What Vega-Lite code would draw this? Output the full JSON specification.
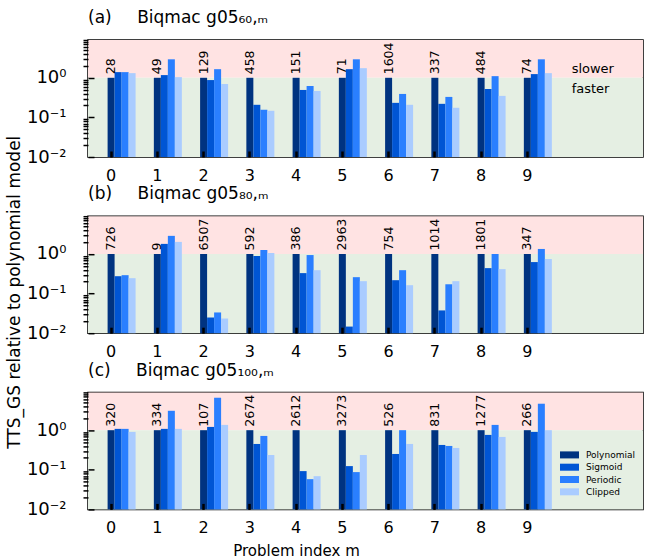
{
  "$schema": "https://vega.github.io/schema/vega-lite/v6.json",
  "padding": {"left": 4, "top": 8, "right": 0, "bottom": 0},
  "config": {
    "font": "DejaVu Sans",
    "view": {"stroke": "black", "strokeWidth": 1.5},
    "title": {"fontSize": 17, "fontWeight": "normal", "anchor": "start", "frame": "group", "offset": 12, "color": "black"},
    "axis": {"grid": false, "domain": false, "labelColor": "black", "tickColor": "black", "titleFontWeight": "normal", "titleColor": "black"}
  },
  "datasets": {
    "bars": [
      {"panel": "a", "m": 0, "model": "Polynomial", "value": 1}, {"panel": "a", "m": 0, "model": "Sigmoid", "value": 1.39}, {"panel": "a", "m": 0, "model": "Periodic", "value": 1.39}, {"panel": "a", "m": 0, "model": "Clipped", "value": 1.31},
      {"panel": "a", "m": 1, "model": "Polynomial", "value": 1}, {"panel": "a", "m": 1, "model": "Sigmoid", "value": 1.17}, {"panel": "a", "m": 1, "model": "Periodic", "value": 2.93}, {"panel": "a", "m": 1, "model": "Clipped", "value": 1.04},
      {"panel": "a", "m": 2, "model": "Polynomial", "value": 1}, {"panel": "a", "m": 2, "model": "Sigmoid", "value": 0.876}, {"panel": "a", "m": 2, "model": "Periodic", "value": 1.65}, {"panel": "a", "m": 2, "model": "Clipped", "value": 0.696},
      {"panel": "a", "m": 3, "model": "Polynomial", "value": 1}, {"panel": "a", "m": 3, "model": "Sigmoid", "value": 0.208}, {"panel": "a", "m": 3, "model": "Periodic", "value": 0.156}, {"panel": "a", "m": 3, "model": "Clipped", "value": 0.147},
      {"panel": "a", "m": 4, "model": "Polynomial", "value": 1}, {"panel": "a", "m": 4, "model": "Sigmoid", "value": 0.493}, {"panel": "a", "m": 4, "model": "Periodic", "value": 0.62}, {"panel": "a", "m": 4, "model": "Clipped", "value": 0.465},
      {"panel": "a", "m": 5, "model": "Polynomial", "value": 1}, {"panel": "a", "m": 5, "model": "Sigmoid", "value": 1.65}, {"panel": "a", "m": 5, "model": "Periodic", "value": 2.93}, {"panel": "a", "m": 5, "model": "Clipped", "value": 1.75},
      {"panel": "a", "m": 6, "model": "Polynomial", "value": 1}, {"panel": "a", "m": 6, "model": "Sigmoid", "value": 0.233}, {"panel": "a", "m": 6, "model": "Periodic", "value": 0.391}, {"panel": "a", "m": 6, "model": "Clipped", "value": 0.208},
      {"panel": "a", "m": 7, "model": "Polynomial", "value": 1}, {"panel": "a", "m": 7, "model": "Sigmoid", "value": 0.22}, {"panel": "a", "m": 7, "model": "Periodic", "value": 0.329}, {"panel": "a", "m": 7, "model": "Clipped", "value": 0.175},
      {"panel": "a", "m": 8, "model": "Polynomial", "value": 1}, {"panel": "a", "m": 8, "model": "Sigmoid", "value": 0.522}, {"panel": "a", "m": 8, "model": "Periodic", "value": 1.1}, {"panel": "a", "m": 8, "model": "Clipped", "value": 0.349},
      {"panel": "a", "m": 9, "model": "Polynomial", "value": 1}, {"panel": "a", "m": 9, "model": "Sigmoid", "value": 1.24}, {"panel": "a", "m": 9, "model": "Periodic", "value": 2.93}, {"panel": "a", "m": 9, "model": "Clipped", "value": 1.31},

      {"panel": "b", "m": 0, "model": "Polynomial", "value": 1}, {"panel": "b", "m": 0, "model": "Sigmoid", "value": 0.275}, {"panel": "b", "m": 0, "model": "Periodic", "value": 0.292}, {"panel": "b", "m": 0, "model": "Clipped", "value": 0.245},
      {"panel": "b", "m": 1, "model": "Polynomial", "value": 1}, {"panel": "b", "m": 1, "model": "Sigmoid", "value": 1.8}, {"panel": "b", "m": 1, "model": "Periodic", "value": 2.87}, {"panel": "b", "m": 1, "model": "Clipped", "value": 2.02},
      {"panel": "b", "m": 2, "model": "Polynomial", "value": 1}, {"panel": "b", "m": 2, "model": "Sigmoid", "value": 0.0249}, {"panel": "b", "m": 2, "model": "Periodic", "value": 0.0334}, {"panel": "b", "m": 2, "model": "Clipped", "value": 0.0235},
      {"panel": "b", "m": 3, "model": "Polynomial", "value": 1}, {"panel": "b", "m": 3, "model": "Sigmoid", "value": 0.89}, {"panel": "b", "m": 3, "model": "Periodic", "value": 1.26}, {"panel": "b", "m": 3, "model": "Clipped", "value": 1.06},
      {"panel": "b", "m": 4, "model": "Polynomial", "value": 1}, {"panel": "b", "m": 4, "model": "Sigmoid", "value": 0.329}, {"panel": "b", "m": 4, "model": "Periodic", "value": 0.94}, {"panel": "b", "m": 4, "model": "Clipped", "value": 0.39},
      {"panel": "b", "m": 5, "model": "Polynomial", "value": 1}, {"panel": "b", "m": 5, "model": "Sigmoid", "value": 0.0147}, {"panel": "b", "m": 5, "model": "Periodic", "value": 0.26}, {"panel": "b", "m": 5, "model": "Clipped", "value": 0.206},
      {"panel": "b", "m": 6, "model": "Polynomial", "value": 1}, {"panel": "b", "m": 6, "model": "Sigmoid", "value": 0.218}, {"panel": "b", "m": 6, "model": "Periodic", "value": 0.39}, {"panel": "b", "m": 6, "model": "Clipped", "value": 0.163},
      {"panel": "b", "m": 7, "model": "Polynomial", "value": 1}, {"panel": "b", "m": 7, "model": "Sigmoid", "value": 0.0376}, {"panel": "b", "m": 7, "model": "Periodic", "value": 0.172}, {"panel": "b", "m": 7, "model": "Clipped", "value": 0.206},
      {"panel": "b", "m": 8, "model": "Polynomial", "value": 1}, {"panel": "b", "m": 8, "model": "Sigmoid", "value": 0.44}, {"panel": "b", "m": 8, "model": "Periodic", "value": 1.0}, {"panel": "b", "m": 8, "model": "Clipped", "value": 0.415},
      {"panel": "b", "m": 9, "model": "Polynomial", "value": 1}, {"panel": "b", "m": 9, "model": "Sigmoid", "value": 0.625}, {"panel": "b", "m": 9, "model": "Periodic", "value": 1.34}, {"panel": "b", "m": 9, "model": "Clipped", "value": 0.746},

      {"panel": "c", "m": 0, "model": "Polynomial", "value": 1}, {"panel": "c", "m": 0, "model": "Sigmoid", "value": 1.08}, {"panel": "c", "m": 0, "model": "Periodic", "value": 1.08}, {"panel": "c", "m": 0, "model": "Clipped", "value": 0.906},
      {"panel": "c", "m": 1, "model": "Polynomial", "value": 1}, {"panel": "c", "m": 1, "model": "Sigmoid", "value": 1.08}, {"panel": "c", "m": 1, "model": "Periodic", "value": 3.09}, {"panel": "c", "m": 1, "model": "Clipped", "value": 1.08},
      {"panel": "c", "m": 2, "model": "Polynomial", "value": 1}, {"panel": "c", "m": 2, "model": "Sigmoid", "value": 1.21}, {"panel": "c", "m": 2, "model": "Periodic", "value": 6.6}, {"panel": "c", "m": 2, "model": "Clipped", "value": 1.36},
      {"panel": "c", "m": 3, "model": "Polynomial", "value": 1}, {"panel": "c", "m": 3, "model": "Sigmoid", "value": 0.449}, {"panel": "c", "m": 3, "model": "Periodic", "value": 0.716}, {"panel": "c", "m": 3, "model": "Clipped", "value": 0.236},
      {"panel": "c", "m": 4, "model": "Polynomial", "value": 1}, {"panel": "c", "m": 4, "model": "Sigmoid", "value": 0.0927}, {"panel": "c", "m": 4, "model": "Periodic", "value": 0.058}, {"panel": "c", "m": 4, "model": "Clipped", "value": 0.069},
      {"panel": "c", "m": 5, "model": "Polynomial", "value": 1}, {"panel": "c", "m": 5, "model": "Sigmoid", "value": 0.124}, {"panel": "c", "m": 5, "model": "Periodic", "value": 0.0875}, {"panel": "c", "m": 5, "model": "Clipped", "value": 0.236},
      {"panel": "c", "m": 6, "model": "Polynomial", "value": 1}, {"panel": "c", "m": 6, "model": "Sigmoid", "value": 0.251}, {"panel": "c", "m": 6, "model": "Periodic", "value": 1.0}, {"panel": "c", "m": 6, "model": "Clipped", "value": 0.449},
      {"panel": "c", "m": 7, "model": "Polynomial", "value": 1}, {"panel": "c", "m": 7, "model": "Sigmoid", "value": 0.424}, {"panel": "c", "m": 7, "model": "Periodic", "value": 0.4}, {"panel": "c", "m": 7, "model": "Clipped", "value": 0.356},
      {"panel": "c", "m": 8, "model": "Polynomial", "value": 1}, {"panel": "c", "m": 8, "model": "Sigmoid", "value": 0.76}, {"panel": "c", "m": 8, "model": "Periodic", "value": 1.36}, {"panel": "c", "m": 8, "model": "Clipped", "value": 0.676},
      {"panel": "c", "m": 9, "model": "Polynomial", "value": 1}, {"panel": "c", "m": 9, "model": "Sigmoid", "value": 0.906}, {"panel": "c", "m": 9, "model": "Periodic", "value": 4.66}, {"panel": "c", "m": 9, "model": "Clipped", "value": 1.0}
    ],
    "labels": [
      {"panel": "a", "m": 0, "n": 28}, {"panel": "a", "m": 1, "n": 49}, {"panel": "a", "m": 2, "n": 129}, {"panel": "a", "m": 3, "n": 458}, {"panel": "a", "m": 4, "n": 151},
      {"panel": "a", "m": 5, "n": 71}, {"panel": "a", "m": 6, "n": 1604}, {"panel": "a", "m": 7, "n": 337}, {"panel": "a", "m": 8, "n": 484}, {"panel": "a", "m": 9, "n": 74},
      {"panel": "b", "m": 0, "n": 726}, {"panel": "b", "m": 1, "n": 9}, {"panel": "b", "m": 2, "n": 6507}, {"panel": "b", "m": 3, "n": 592}, {"panel": "b", "m": 4, "n": 386},
      {"panel": "b", "m": 5, "n": 2963}, {"panel": "b", "m": 6, "n": 754}, {"panel": "b", "m": 7, "n": 1014}, {"panel": "b", "m": 8, "n": 1801}, {"panel": "b", "m": 9, "n": 347},
      {"panel": "c", "m": 0, "n": 320}, {"panel": "c", "m": 1, "n": 334}, {"panel": "c", "m": 2, "n": 107}, {"panel": "c", "m": 3, "n": 2674}, {"panel": "c", "m": 4, "n": 2612},
      {"panel": "c", "m": 5, "n": 3273}, {"panel": "c", "m": 6, "n": 526}, {"panel": "c", "m": 7, "n": 831}, {"panel": "c", "m": 8, "n": 1277}, {"panel": "c", "m": 9, "n": 266}
    ],
    "zones": [
      {"zone": "slower", "lo": 1, "hi": 9},
      {"zone": "faster", "lo": 0.01, "hi": 1}
    ],
    "notes": [
      {"m": 10, "level": 1.62, "label": "slower"},
      {"m": 10, "level": 0.513, "label": "faster"}
    ]
  },
  "bounds": "flush",
  "spacing": 59.2,
  "resolve": {"scale": {"color": "independent"}, "legend": {"color": "independent"}},
  "vconcat": [
    {
      "width": 555, "height": 117,
      "title": {"text": "(a)\u2003\u2002Biqmac g05\u2086\u2080,\u2098"},
      "layer": [
        {"data": {"name": "zones"}, "mark": {"type": "rect"},
         "encoding": {"y": {"field": "lo", "type": "quantitative", "scale": {"type": "log", "domain": [0.01, 9], "nice": false}}, "y2": {"field": "hi"},
           "fill": {"field": "zone", "type": "nominal", "scale": {"domain": ["slower", "faster"], "range": ["#ffe3e3", "#e5efe3"]}, "legend": null}}},
        {"mark": {"type": "rule", "color": "#808080", "strokeWidth": 1.5}, "encoding": {"y": {"datum": 1, "type": "quantitative"}}},
        {"data": {"name": "bars"}, "transform": [{"filter": "datum.panel == 'a'"}],
         "mark": {"type": "bar"},
         "encoding": {
           "x": {"field": "m", "type": "ordinal", "scale": {"domain": [0,1,2,3,4,5,6,7,8,9,10,11], "paddingInner": 0, "paddingOuter": 0},
             "axis": {"values": [0,1,2,3,4,5,6,7,8,9], "labelAngle": 0, "labelFontSize": 16, "tickSize": -6, "tickWidth": 2.5, "labelPadding": 16, "title": null, "zindex": 1}},
           "xOffset": {"field": "model", "scale": {"domain": ["Polynomial", "Sigmoid", "Periodic", "Clipped"], "range": [19.6, 47.6], "paddingInner": 0, "paddingOuter": 0}},
           "y": {"field": "value", "type": "quantitative", "scale": {"type": "log", "domain": [0.01, 9], "nice": false},
             "axis": {"values": [0.01,0.02,0.03,0.04,0.05,0.06,0.07,0.08,0.09,0.1,0.2,0.3,0.4,0.5,0.6,0.7,0.8,0.9,1,2,3,4,5,6,7,8,9],
               "labelExpr": "datum.value == 1 ? '10\u2070' : datum.value == 0.1 ? '10\u207b\u00b9' : datum.value == 0.01 ? '10\u207b\u00b2' : ''",
               "labelFontSize": 18, "tickWidth": 1.5,
               "tickSize": {"condition": {"test": "datum.value == 1 || datum.value == 0.1 || datum.value == 0.01", "value": -6}, "value": 5},
               "labelPadding": 28, "zindex": 1,
               "title": "TTS_GS relative to polynomial model", "titleFontSize": 17, "titleX": -65, "titleY": 251.7, "titleAngle": 270, "titleAlign": "center", "titleBaseline": "bottom"}},
           "y2": {"datum": 0.01},
           "color": {"field": "model", "type": "nominal", "scale": {"domain": ["Polynomial", "Sigmoid", "Periodic", "Clipped"], "range": ["#003380", "#0055d4", "#2a7fff", "#aaccff"]}, "legend": null}
         }},
        {"data": {"name": "labels"}, "transform": [{"filter": "datum.panel == 'a'"}],
         "mark": {"type": "text", "angle": 270, "align": "left", "baseline": "middle", "dx": 3.5, "fontSize": 12.5, "color": "black"},
         "encoding": {"x": {"field": "m", "type": "ordinal"}, "y": {"datum": 1, "type": "quantitative"}, "text": {"field": "n"}}},
        {"data": {"name": "notes"},
         "mark": {"type": "text", "align": "left", "baseline": "middle", "dx": -2, "fontSize": 13, "color": "black"},
         "encoding": {"x": {"field": "m", "type": "ordinal"}, "y": {"field": "level", "type": "quantitative"}, "text": {"field": "label"}}}
      ]
    },
    {
      "width": 555, "height": 117,
      "title": {"text": "(b)\u2003\u2002Biqmac g05\u2088\u2080,\u2098"},
      "layer": [
        {"data": {"name": "zones"}, "mark": {"type": "rect"},
         "encoding": {"y": {"field": "lo", "type": "quantitative", "scale": {"type": "log", "domain": [0.01, 9], "nice": false}}, "y2": {"field": "hi"},
           "fill": {"field": "zone", "type": "nominal", "scale": {"domain": ["slower", "faster"], "range": ["#ffe3e3", "#e5efe3"]}, "legend": null}}},
        {"mark": {"type": "rule", "color": "#808080", "strokeWidth": 1.5}, "encoding": {"y": {"datum": 1, "type": "quantitative"}}},
        {"data": {"name": "bars"}, "transform": [{"filter": "datum.panel == 'b'"}],
         "mark": {"type": "bar"},
         "encoding": {
           "x": {"field": "m", "type": "ordinal", "scale": {"domain": [0,1,2,3,4,5,6,7,8,9,10,11], "paddingInner": 0, "paddingOuter": 0},
             "axis": {"values": [0,1,2,3,4,5,6,7,8,9], "labelAngle": 0, "labelFontSize": 16, "tickSize": -6, "tickWidth": 2.5, "labelPadding": 16, "title": null, "zindex": 1}},
           "xOffset": {"field": "model", "scale": {"domain": ["Polynomial", "Sigmoid", "Periodic", "Clipped"], "range": [19.6, 47.6], "paddingInner": 0, "paddingOuter": 0}},
           "y": {"field": "value", "type": "quantitative", "scale": {"type": "log", "domain": [0.01, 9], "nice": false},
             "axis": {"values": [0.01,0.02,0.03,0.04,0.05,0.06,0.07,0.08,0.09,0.1,0.2,0.3,0.4,0.5,0.6,0.7,0.8,0.9,1,2,3,4,5,6,7,8,9],
               "labelExpr": "datum.value == 1 ? '10\u2070' : datum.value == 0.1 ? '10\u207b\u00b9' : datum.value == 0.01 ? '10\u207b\u00b2' : ''",
               "labelFontSize": 18, "tickWidth": 1.5,
               "tickSize": {"condition": {"test": "datum.value == 1 || datum.value == 0.1 || datum.value == 0.01", "value": -6}, "value": 5},
               "labelPadding": 28, "title": null, "zindex": 1}},
           "y2": {"datum": 0.01},
           "color": {"field": "model", "type": "nominal", "scale": {"domain": ["Polynomial", "Sigmoid", "Periodic", "Clipped"], "range": ["#003380", "#0055d4", "#2a7fff", "#aaccff"]}, "legend": null}
         }},
        {"data": {"name": "labels"}, "transform": [{"filter": "datum.panel == 'b'"}],
         "mark": {"type": "text", "angle": 270, "align": "left", "baseline": "middle", "dx": 3.5, "fontSize": 12.5, "color": "black"},
         "encoding": {"x": {"field": "m", "type": "ordinal"}, "y": {"datum": 1, "type": "quantitative"}, "text": {"field": "n"}}}
      ]
    },
    {
      "width": 555, "height": 117,
      "title": {"text": "(c)\u2003\u2002Biqmac g05\u2081\u2080\u2080,\u2098"},
      "layer": [
        {"data": {"name": "zones"}, "mark": {"type": "rect"},
         "encoding": {"y": {"field": "lo", "type": "quantitative", "scale": {"type": "log", "domain": [0.01, 9], "nice": false}}, "y2": {"field": "hi"},
           "fill": {"field": "zone", "type": "nominal", "scale": {"domain": ["slower", "faster"], "range": ["#ffe3e3", "#e5efe3"]}, "legend": null}}},
        {"mark": {"type": "rule", "color": "#808080", "strokeWidth": 1.5}, "encoding": {"y": {"datum": 1, "type": "quantitative"}}},
        {"data": {"name": "bars"}, "transform": [{"filter": "datum.panel == 'c'"}],
         "mark": {"type": "bar"},
         "encoding": {
           "x": {"field": "m", "type": "ordinal", "scale": {"domain": [0,1,2,3,4,5,6,7,8,9,10,11], "paddingInner": 0, "paddingOuter": 0},
             "axis": {"values": [0,1,2,3,4,5,6,7,8,9], "labelAngle": 0, "labelFontSize": 16, "tickSize": -6, "tickWidth": 2.5, "labelPadding": 16, "zindex": 1,
               "title": "Problem index m", "titleFontSize": 15, "titleX": 208, "titlePadding": 8}},
           "xOffset": {"field": "model", "scale": {"domain": ["Polynomial", "Sigmoid", "Periodic", "Clipped"], "range": [19.6, 47.6], "paddingInner": 0, "paddingOuter": 0}},
           "y": {"field": "value", "type": "quantitative", "scale": {"type": "log", "domain": [0.01, 9], "nice": false},
             "axis": {"values": [0.01,0.02,0.03,0.04,0.05,0.06,0.07,0.08,0.09,0.1,0.2,0.3,0.4,0.5,0.6,0.7,0.8,0.9,1,2,3,4,5,6,7,8,9],
               "labelExpr": "datum.value == 1 ? '10\u2070' : datum.value == 0.1 ? '10\u207b\u00b9' : datum.value == 0.01 ? '10\u207b\u00b2' : ''",
               "labelFontSize": 18, "tickWidth": 1.5,
               "tickSize": {"condition": {"test": "datum.value == 1 || datum.value == 0.1 || datum.value == 0.01", "value": -6}, "value": 5},
               "labelPadding": 28, "title": null, "zindex": 1}},
           "y2": {"datum": 0.01},
           "color": {"field": "model", "type": "nominal", "scale": {"domain": ["Polynomial", "Sigmoid", "Periodic", "Clipped"], "range": ["#003380", "#0055d4", "#2a7fff", "#aaccff"]},
             "legend": {"orient": "none", "legendX": 475, "legendY": 56, "title": null, "padding": 0, "symbolType": "M-1.46,-0.54H1.46V0.54H-1.46Z", "symbolSize": 169, "symbolStrokeWidth": 0, "labelFontSize": 9, "labelOffset": 10, "rowPadding": 0.3, "labelColor": "black"}}
         }},
        {"data": {"name": "labels"}, "transform": [{"filter": "datum.panel == 'c'"}],
         "mark": {"type": "text", "angle": 270, "align": "left", "baseline": "middle", "dx": 3.5, "fontSize": 12.5, "color": "black"},
         "encoding": {"x": {"field": "m", "type": "ordinal"}, "y": {"datum": 1, "type": "quantitative"}, "text": {"field": "n"}}}
      ]
    }
  ]
}
